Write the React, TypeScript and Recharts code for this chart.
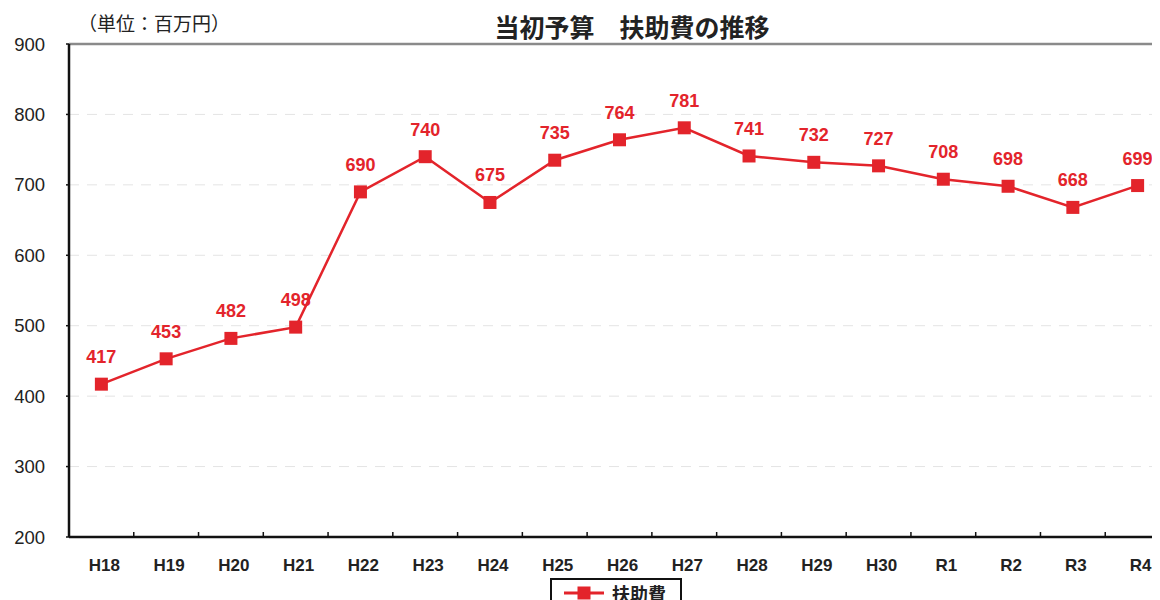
import React from "react";
import {
  LineChart,
  Line,
  XAxis,
  YAxis,
  CartesianGrid,
  ReferenceLine,
  LabelList,
  Legend,
} from "recharts";

const years = ["H18","H19","H20","H21","H22","H23","H24","H25","H26","H27","H28","H29","H30","R1","R2","R3","R4"];
const values = [417,453,482,498,690,740,675,735,764,781,741,732,727,708,698,668,699];
const yTicks = [200,300,400,500,600,700,800,900];
const seriesName = "扶助費";
const title = "当初予算　扶助費の推移";
const unitLabel = "（単位：百万円）";

const data = years.map((y, i) => ({ year: y, value: values[i] }));

const RED = "#e3242b";
const FONT = '"Liberation Sans", Arial, "Noto Sans CJK JP", sans-serif';
const CHART_W = 1172;
const CHART_H = 592;
const MARGIN = { top: 36, right: 10, bottom: 33, left: 0 };
const Y_W = 61;
const BAND = (CHART_W - MARGIN.left - MARGIN.right - Y_W) / years.length;

const XTick = (props: any) => {
  const { x, y, payload } = props;
  const axisY = y - 22;
  return (
    <g>
      <line x1={x + BAND / 2} x2={x + BAND / 2} y1={axisY - 5} y2={axisY} stroke="#111" strokeWidth={1.5} />
      <text x={x + 3} y={y + 12} textAnchor="middle" fontFamily={FONT} fontSize={17} fontWeight={600} fill="#222">
        {payload.value}
      </text>
    </g>
  );
};

const SquareDot = (props: any) => {
  const { cx, cy } = props;
  if (cx == null || cy == null) return null;
  return <rect x={cx - 6.5} y={cy - 6.5} width={13} height={13} fill={RED} />;
};

const LegendBox = () => (
  <div
    style={{
      border: "2px solid #111",
      width: 132,
      height: 30,
      boxSizing: "border-box",
      display: "flex",
      alignItems: "center",
      background: "#fff",
      fontFamily: FONT,
    }}
  >
    <svg width={60} height={20}>
      <line x1={12} x2={52} y1={10} y2={10} stroke={RED} strokeWidth={3} />
      <rect x={25.5} y={3.5} width={13} height={13} fill={RED} />
    </svg>
    <span style={{ fontSize: 18, fontWeight: 600, color: "#222" }}>{seriesName}</span>
  </div>
);

export default function App() {
  return (
    <div style={{ position: "relative", width: CHART_W, height: CHART_H }}>
      <div
        style={{
          position: "absolute",
          left: 0,
          width: 1248,
          top: 0,
          textAlign: "center",
          fontFamily: FONT,
          fontSize: 25,
          fontWeight: 700,
          color: "#222",
          zIndex: 2,
        }}
      >
        {title}
      </div>
      <div
        style={{
          position: "absolute",
          left: 70,
          top: 1,
          fontFamily: FONT,
          fontSize: 19,
          color: "#222",
          zIndex: 2,
        }}
      >
        {unitLabel}
      </div>
      <LineChart width={CHART_W} height={CHART_H} data={data} margin={MARGIN}>
        <CartesianGrid vertical={false} stroke="#e4e4e4" strokeDasharray="10 8" />
        <ReferenceLine y={900} stroke="#8a8a8a" strokeWidth={2.5} />
        <XAxis
          dataKey="year"
          scale="band"
          interval={0}
          height={30}
          tickSize={0}
          tickMargin={22}
          tickLine={false}
          axisLine={{ stroke: "#111", strokeWidth: 2.5 }}
          tick={<XTick />}
        />
        <YAxis
          width={Y_W}
          domain={[200, 900]}
          ticks={yTicks}
          interval={0}
          tickSize={3}
          tickMargin={21}
          axisLine={{ stroke: "#111", strokeWidth: 2.5 }}
          tickLine={{ stroke: "#111", strokeWidth: 1.5 }}
          tick={{ fontFamily: FONT, fontSize: 18.5, fill: "#222" }}
        />
        <Legend
          layout="vertical"
          align="center"
          verticalAlign="middle"
          wrapperStyle={{ left: 542, top: 570, width: 132 }}
          content={<LegendBox />}
        />
        <Line
          type="linear"
          dataKey="value"
          name={seriesName}
          stroke={RED}
          strokeWidth={2.5}
          dot={<SquareDot />}
          activeDot={false}
          isAnimationActive={false}
        >
          <LabelList
            dataKey="value"
            position="top"
            offset={21}
            fill={RED}
            fontFamily={FONT}
            fontSize={18}
            fontWeight={700}
          />
        </Line>
      </LineChart>
    </div>
  );
}
